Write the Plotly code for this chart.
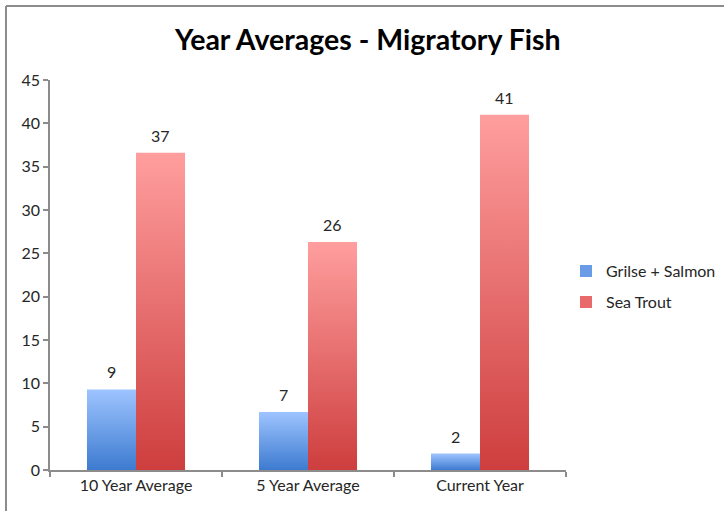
import plotly.graph_objects as go

categories = ["10 Year Average", "5 Year Average", "Current Year"]
series_names = ["Grilse + Salmon", "Sea Trout"]
salmon = [9.3, 6.7, 1.9]
trout = [36.6, 26.3, 41.0]
y_ticks = [0, 5, 10, 15, 20, 25, 30, 35, 40, 45]

FONT = "Lato"
BAR_W = 0.285
styles = [
    dict(light="#9EC4FF", dark="#3D7BD0", legend="#6A9BE6"),
    dict(light="#FF9E9E", dark="#CE3E3E", legend="#E86A6A"),
]

fig = go.Figure()
annotations = []
all_series = [salmon, trout]
for s_idx, values in enumerate(all_series):
    st = styles[s_idx]
    for c_idx, v in enumerate(values):
        x0 = c_idx - BAR_W if s_idx == 0 else c_idx
        x1 = x0 + BAR_W
        fig.add_trace(go.Scatter(
            x=[x0, x0, x1, x1, x0], y=[0, v, v, 0, 0],
            mode="lines", fill="toself",
            fillgradient=dict(type="vertical", start=0, stop=v,
                              colorscale=[[0, st["dark"]], [1, st["light"]]]),
            line=dict(width=0, color="rgba(0,0,0,0)"),
            showlegend=False, hoverinfo="skip",
        ))
        annotations.append(dict(
            x=x0 + BAR_W / 2, y=v, xref="x", yref="y", text=f"{round(v):d}",
            showarrow=False, yanchor="bottom", yshift=6,
            font=dict(family=FONT, size=16, color="#262626"),
        ))
    # legend entry
    fig.add_trace(go.Scatter(
        x=[None], y=[None], mode="markers", name=series_names[s_idx],
        legendgroup=series_names[s_idx],
        marker=dict(symbol="square", size=9, color=st["legend"]),
    ))

fig.update_layout(
    width=724, height=511,
    margin=dict(l=50, r=158, t=80, b=41, autoexpand=False),
    paper_bgcolor="white", plot_bgcolor="white",
    title=dict(text="<b>Year Averages - Migratory Fish</b>", x=0.508, xanchor="center",
               y=0.922, yanchor="middle",
               font=dict(family=FONT, size=28.5, color="black")),
    legend=dict(x=1.0, y=0.47, xanchor="left", yanchor="middle",
                font=dict(family=FONT, size=16, color="#262626"),
                itemsizing="constant", tracegroupgap=7, traceorder="grouped"),
    xaxis=dict(range=[-0.5, 2.5], tickvals=[0, 1, 2], ticktext=categories,
               showgrid=False, zeroline=False, showline=True, linecolor="#8C8C8C",
               linewidth=1.5, ticks="", tickfont=dict(family=FONT, size=16, color="#262626"),
               minor=dict(tickvals=[-0.5, 0.5, 1.5, 2.5], ticks="outside", ticklen=5,
                          tickcolor="#8C8C8C", tickwidth=1.5),
               fixedrange=True, automargin=False),
    yaxis=dict(range=[0, 45], tickvals=y_ticks, showgrid=False, zeroline=False,
               showline=True, linecolor="#8C8C8C", linewidth=1.5,
               ticks="outside", ticklen=5, tickcolor="#8C8C8C", tickwidth=1.5,
               tickfont=dict(family=FONT, size=16, color="#262626"),
               fixedrange=True, automargin=False),
    annotations=annotations,
    shapes=[
        dict(type="line", xref="paper", yref="paper", x0=-0.0853, x1=1.4, y0=1.19, y1=1.19,
             line=dict(color="#8C8C8C", width=2)),
        dict(type="line", xref="paper", yref="paper", x0=-0.0853, x1=-0.0853, y0=1.19, y1=-0.2,
             line=dict(color="#8C8C8C", width=2)),
    ],
)

fig.write_html("out.html", config={"displayModeBar": False},
               post_script="document.body.style.margin='0';")
